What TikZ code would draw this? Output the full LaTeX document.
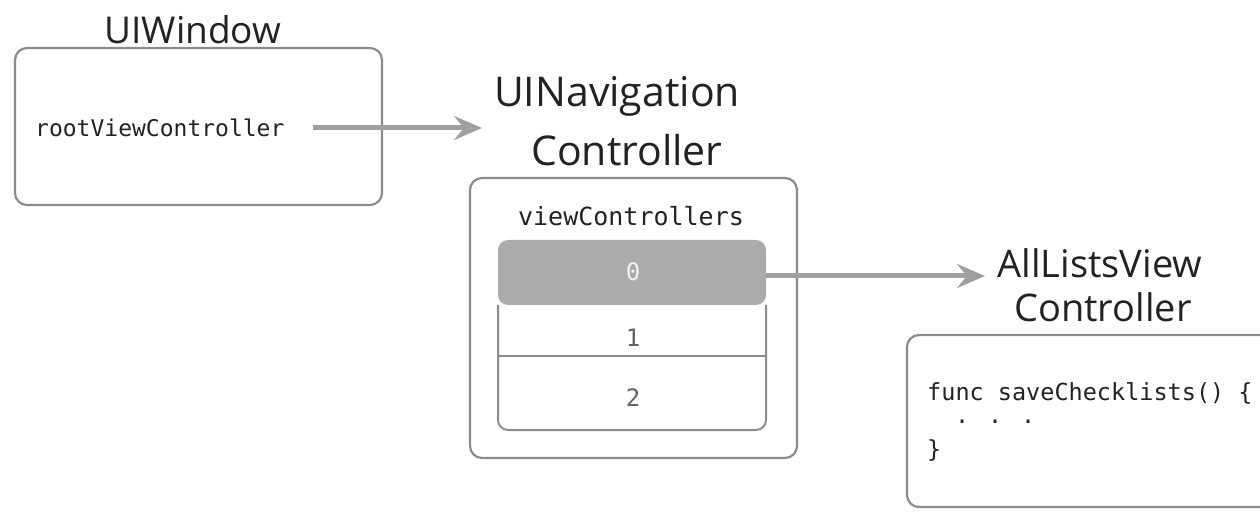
\documentclass[tikz,border=0pt]{standalone}
\usepackage{fontspec}
\setmainfont{Open Sans}
\newfontfamily\codefont{DejaVu Sans Mono}
\usetikzlibrary{arrows.meta}
\definecolor{bordergray}{HTML}{8C8C8C}
\definecolor{arrowgray}{HTML}{A0A0A0}
\definecolor{rowgray}{HTML}{ABABAB}
\definecolor{ink}{HTML}{222222}
\tikzset{
  title/.style={font=\fontsize{36}{38}\selectfont, text=ink, inner sep=0pt, anchor=center},
  code/.style={font=\codefont\fontsize{23}{25}\selectfont, text=ink, inner sep=0pt},
  box/.style={draw=bordergray, line width=2.2pt, rounded corners=12pt},
  cell/.style={draw=bordergray, line width=2pt},
  arr/.style={draw=arrowgray, line width=5pt, -{Stealth[length=28pt,width=24pt,inset=10pt]}},
}
\begin{document}
\begin{tikzpicture}[x=1pt,y=1pt]
\clip (0,0) rectangle (1260,514);
\useasboundingbox (0,0) rectangle (1260,514);
\fill[white] (0,0) rectangle (1260,514);
% UIWindow
\node[title, font=\fontsize{37}{39}\selectfont] (wintitle) at (193,484) {UIWindow};
\draw[box] (15,309) rectangle (382,466);
\node[code, anchor=west] (root) at (35,386) {rootViewController};
% UINavigationController
\node[title, font=\fontsize{41}{43}\selectfont] (navtitle1) at (617,418) {UINavigation};
\node[title, font=\fontsize{41}{43}\selectfont] (navtitle2) at (627,364) {Controller};
\draw[box] (470,56) rectangle (797,336);
\node[code, font=\codefont\fontsize{25}{27}\selectfont] (vcs) at (631,298) {viewControllers};
% table
\fill[rowgray, rounded corners=10pt] (498,209) -- (498,274) -- (766,274) -- (766,209) -- cycle;
\draw[cell, rounded corners=10pt] (498,209) -- (498,84) -- (766,84) -- (766,209);
\draw[cell] (498,158) -- (766,158);
\node[code, font=\codefont\fontsize{24}{26}\selectfont, text=white!85!rowgray] (r0) at (633,242) {0};
\node[code, font=\codefont\fontsize{24}{26}\selectfont, text=ink!70] (r1) at (633,176) {1};
\node[code, font=\codefont\fontsize{24}{26}\selectfont, text=ink!70] (r2) at (633,116) {2};
\coordinate (row0east) at (766,238);
% AllListsViewController
\node[title, font=\fontsize{38}{40}\selectfont] (alltitle1) at (1100,251) {AllListsView};
\node[title, font=\fontsize{38}{40}\selectfont] (alltitle2) at (1103,207) {Controller};
\draw[box] (907,7) rectangle (1290,179);
\node[code, font=\codefont\fontsize{23.5}{25}\selectfont, anchor=west] (c1) at (927,121) {func saveChecklists() \{};
\node[code, font=\codefont\fontsize{23.5}{25}\selectfont, anchor=west] (c2) at (955,92) {. . .};
\node[code, font=\codefont\fontsize{23.5}{25}\selectfont, anchor=west] (c3) at (927,64) {\}};
% arrows
\coordinate (a1end) at (482,386);
\coordinate (a2end) at (985,238);
\draw[arr] ([xshift=28pt]root.east) -- (a1end);
\draw[arr] (row0east) -- (a2end);
\end{tikzpicture}
\end{document}
